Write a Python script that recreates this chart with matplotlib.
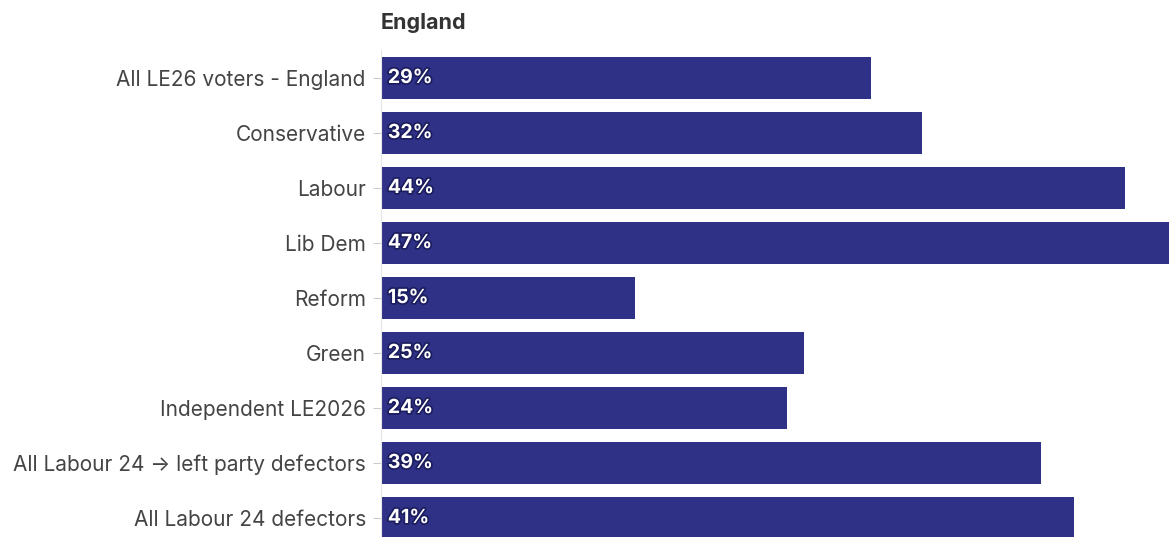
import matplotlib.pyplot as plt
import matplotlib.patheffects as pe

plt.rcParams['font.family'] = ['Inter', 'DejaVu Sans']

groups = ["All LE26 voters - England", "Conservative", "Labour", "Lib Dem", "Reform",
          "Green", "Independent LE2026", "All Labour 24 \u2192 left party defectors",
          "All Labour 24 defectors"]
values = [29, 32, 44, 47, 15, 25, 24, 39, 41]

fig = plt.figure(figsize=(11.69, 5.37), dpi=100)
ax = fig.add_axes([0.326, 0.0, 0.674, 0.907])

pos = list(range(len(groups)))
ax.barh(pos, values, height=0.78, color="#2e3186")

for y, v in zip(pos, values):
    ax.text(0.4, y, f"{v}%", color="white", fontsize=14, fontweight="bold",
            va="center", ha="left",
            path_effects=[pe.withStroke(linewidth=2.5, foreground="#1c1d5e")])

ax.set_yticks(pos)
ax.set_yticklabels(groups, fontsize=15, color="#444444")
ax.tick_params(axis="y", length=6, color="#cccccc", pad=5)
ax.set_xticks([])
ax.set_xlim(0, 46.6)
ax.set_ylim(8.345, -0.51)
for s in ["top", "right", "bottom"]:
    ax.spines[s].set_visible(False)
ax.spines["left"].set_color("#e6e6e6")

fig.text(0.326, 0.957, "England", fontsize=15.5, fontweight="bold", color="#333333",
         ha="left", va="center")

fig.savefig("out.png", dpi=100)
